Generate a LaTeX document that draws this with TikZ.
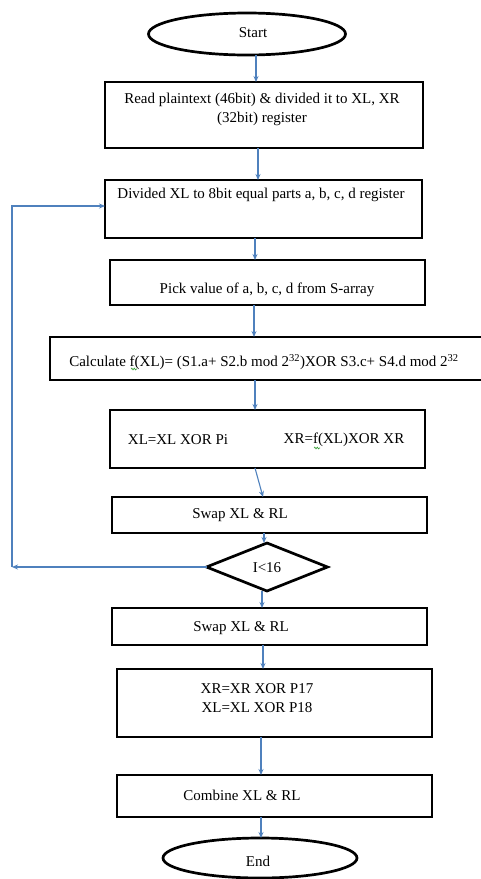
\documentclass[tikz,border=0pt]{standalone}
\usepackage{fontspec}
\setmainfont{Liberation Serif}
\usetikzlibrary{shapes.geometric,arrows.meta,decorations.pathmorphing}
\definecolor{flowblue}{RGB}{79,129,189}
\definecolor{spellgreen}{RGB}{60,160,60}
\begin{document}
\begin{tikzpicture}[x=1pt,y=-1pt,
  every node/.style={inner sep=0pt, outer sep=0pt},
  procbox/.style={draw=black, line width=2.7pt, rectangle},
  terminal/.style={draw=black, line width=2.7pt, ellipse},
  decision/.style={draw=black, line width=2.7pt, diamond},
  txt/.style={font=\fontsize{15}{19}\selectfont, align=center},
  flow/.style={draw=flowblue, line width=1.1pt, -{Stealth[length=6pt,width=5pt]}},
  squiggle/.style={draw=spellgreen, line width=0.7pt, decorate,
    decoration={snake, amplitude=0.8pt, segment length=2.5pt}}]

\useasboundingbox (0,0) rectangle (481,879);

% shapes
\node[terminal, minimum width=197pt, minimum height=42pt] (start) at (247,34) {};
\node[procbox, minimum width=318pt, minimum height=66pt] (b1) at (264,115) {};
\node[procbox, minimum width=317pt, minimum height=58pt] (b2) at (263.5,209) {};
\node[procbox, minimum width=315pt, minimum height=45pt] (b3) at (267.5,282.5) {};
\node[procbox, minimum width=440pt, minimum height=43pt] (b4) at (270,358.5) {};
\node[procbox, minimum width=315pt, minimum height=58pt] (b5) at (267.5,439) {};
\node[procbox, minimum width=315pt, minimum height=36pt] (b6) at (269.5,515) {};
\node[decision, minimum width=121pt, minimum height=48pt] (dia) at (267,567) {};
\node[procbox, minimum width=315pt, minimum height=37pt] (b7) at (269.5,626.5) {};
\node[procbox, minimum width=315pt, minimum height=68pt] (b8) at (274.5,703) {};
\node[procbox, minimum width=315pt, minimum height=42pt] (b9) at (274.5,796) {};
\node[terminal, minimum width=194pt, minimum height=40pt] (end) at (260,858) {};

% texts
\node[txt] (tstart) at (253,33) {Start};
\node[txt] (t1) at (262,109) {Read plaintext (46bit) \& divided it to XL, XR\\(32bit) register};
\node[txt] (t2) at (261,195) {Divided XL to 8bit equal parts a, b, c, d register};
\node[txt] (t3) at (267,290) {Pick value of a, b, c, d from S-array};
\node[txt] (t4) at (264,362) {Calculate f(XL)= (S1.a+ S2.b mod 2\textsuperscript{32})XOR S3.c+ S4.d mod 2\textsuperscript{32}};
\node[txt] (t5a) at (178,440) {XL=XL XOR Pi};
\node[txt] (t5b) at (344,440) {XR=f(XL)XOR XR};
\node[txt] (t6) at (240,515) {Swap XL \& RL};
\node[txt] (tdia) at (267,568) {I<16};
\node[txt] (t7) at (241,628) {Swap XL \& RL};
\node[txt] (t8) at (257,698) {XR=XR XOR P17\\XL=XL XOR P18};
\node[txt] (t9) at (242,795) {Combine XL \& RL};
\node[txt] (tend) at (258,861) {End};

% spelling marks under f(
\draw[squiggle] ([xshift=-133pt,yshift=-7pt]t4.center) -- ++(6,0);
\draw[squiggle] ([xshift=-30pt,yshift=-8pt]t5b.center) -- ++(6,0);

% connectors
\draw[flow] ([xshift=9pt]start.south) -- ([xshift=-8pt]b1.north);
\draw[flow] ([xshift=-6pt]b1.south) -- ([xshift=-5.5pt]b2.north);
\draw[flow] ([xshift=-8.5pt]b2.south) -- ([xshift=-12.5pt]b3.north);
\draw[flow] ([xshift=-13.5pt]b3.south) -- ([xshift=-16pt]b4.north);
\draw[flow] ([xshift=-15pt]b4.south) -- ([xshift=-12.5pt]b5.north);
\draw[flow] ([xshift=-12.5pt]b5.south) -- ([xshift=-6.5pt]b6.north);
\draw[flow] ([xshift=-5.5pt]b6.south) -- ([xshift=-3pt]dia.north);
\draw[flow] ([xshift=-5pt]dia.south) -- ([xshift=-7.5pt]b7.north);
\draw[flow] ([xshift=-6.5pt]b7.south) -- ([xshift=-11.5pt]b8.north);
\draw[flow] ([xshift=-13.5pt]b8.south) -- ([xshift=-13.5pt]b9.north);
\draw[flow] ([xshift=-13.5pt]b9.south) -- ([xshift=1pt]end.north);

% loop back
\coordinate (corner) at (12,567);
\draw[flow] (dia.west) -- (corner);
\draw[flow] (corner) |- ([yshift=3pt]b2.west);
\end{tikzpicture}
\end{document}
